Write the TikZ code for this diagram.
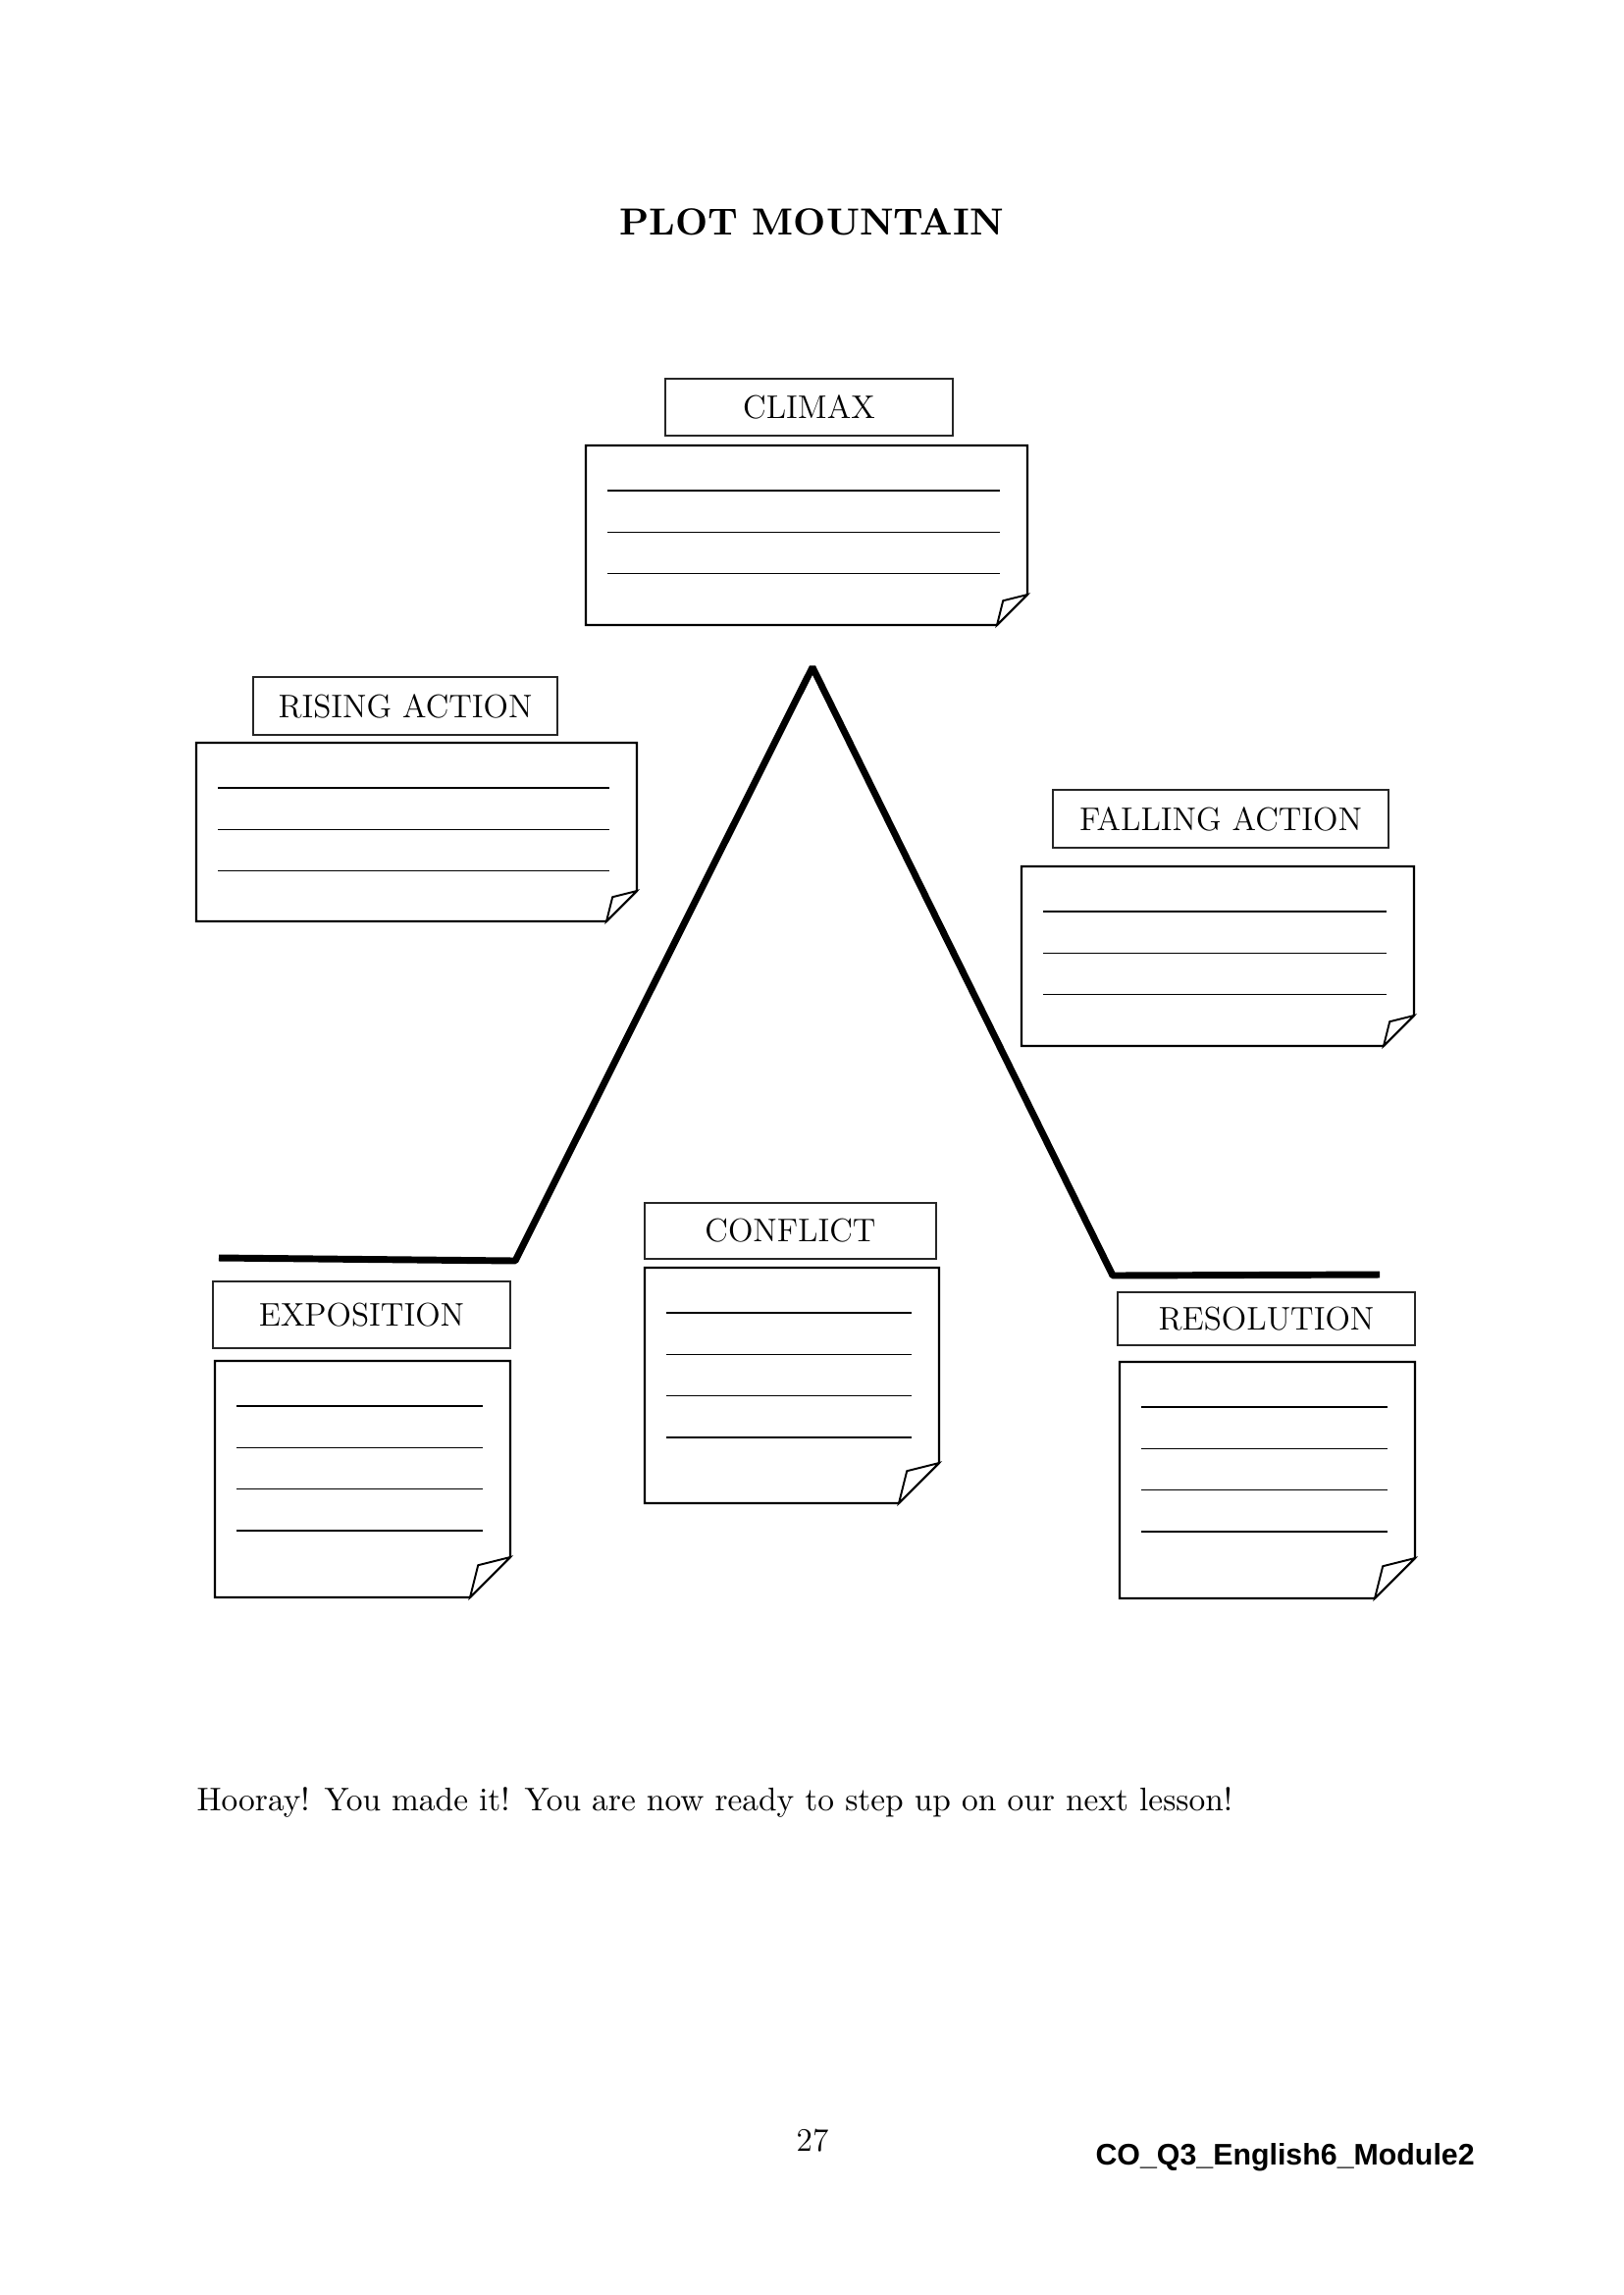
\documentclass[tikz,border=0pt]{standalone}
\usepackage{fontspec}
\newfontfamily\footfont{Liberation Sans}
\usepackage{graphicx}

\tikzset{
  notebox/.style={draw=black, line width=0.8pt, line join=miter, fill=white},
  flap/.style={draw=black, line width=0.7pt, line join=miter, fill=white},
  ruled/.style={draw=black, line width=0.5pt},
  labelbox/.style={draw=black!85, line width=0.45pt, rectangle, inner sep=0pt,
    font=\fontsize{12}{14}\selectfont},
  mountain/.style={line width=2.5pt, line join=bevel, line cap=butt},
}

% sticky note with a curled lower-right corner and ruled lines
% #1 name, #2 x1, #3 y1, #4 x2, #5 y2, #6 corner size, #7 number of lines
\newcommand\stickynote[7]{%
  \coordinate (#1-nw) at (#2,#3);
  \coordinate (#1-ne) at (#4,#3);
  \coordinate (#1-cut) at (#4,#5-#6);
  \coordinate (#1-curl) at (#4-0.8*#6,#5-0.8*#6);
  \coordinate (#1-tip) at (#4-#6,#5);
  \coordinate (#1-sw) at (#2,#5);
  \draw[notebox] (#1-nw) -- (#1-ne) -- (#1-cut) -- (#1-tip) -- (#1-sw) -- cycle;
  \draw[flap] (#1-cut) -- (#1-curl) -- (#1-tip) -- cycle;
  \foreach \k in {1,...,#7}{
    \draw[ruled] (#2+22,{#3+46+(\k-1)*42.3}) -- (#4-28,{#3+46+(\k-1)*42.3});
  }%
}

% heading box: #1 name, #2 x1, #3 y1, #4 x2, #5 y2, #6 text
\newcommand\headingbox[6]{%
  \node[labelbox, minimum width={(#4-#2)*0.36pt}, minimum height={(#5-#3)*0.36pt}]
    (#1) at ({(#2+#4)/2},{(#3+#5)/2+2}) {#6};
}

\begin{document}
\begin{tikzpicture}[x=0.36pt, y=-0.36pt]
  \useasboundingbox[fill=white] (0,0) rectangle (1654,2339);

  % title
  \node[anchor=base, inner sep=0pt] (title) at (827,239)
    {\resizebox{141pt}{!}{\bfseries PLOT MOUNTAIN}};

  % the plot line
  \coordinate (m1) at (223,1282);
  \coordinate (m2) at (525,1285);
  \coordinate (m3) at (828,680);
  \coordinate (m4) at (1134,1300);
  \coordinate (m5) at (1406,1299);
  \draw[mountain] (m1) -- (m2) -- (m3) -- (m4) -- (m5);

  % climax
  \headingbox{climaxlbl}{678}{384}{971}{442}{CLIMAX}
  \stickynote{climax}{597}{454}{1047}{637}{31}{3}

  % rising action
  \headingbox{risinglbl}{258}{688}{568}{747}{RISING ACTION}
  \stickynote{rising}{200}{757}{649}{939}{31}{3}

  % falling action
  \headingbox{fallinglbl}{1073}{803}{1415}{862}{FALLING ACTION}
  \stickynote{falling}{1041}{883}{1441}{1066}{31}{3}

  % conflict
  \headingbox{conflictlbl}{657}{1224}{954}{1281}{CONFLICT}
  \stickynote{conflict}{657}{1292}{957}{1532}{41}{4}

  % exposition
  \headingbox{expositionlbl}{217}{1304}{520}{1372}{EXPOSITION}
  \stickynote{exposition}{219}{1387}{520}{1628}{41}{4}

  % resolution
  \headingbox{resolutionlbl}{1139}{1315}{1442}{1369}{RESOLUTION}
  \stickynote{resolution}{1141}{1388}{1442}{1629}{41}{4}

  % closing line
  \node[anchor=base west, inner sep=0pt] (closing) at (200,1845)
    {\resizebox{380pt}{!}{Hooray! You made it! You are now ready to step up on our next lesson!}};

  % footer
  \node[anchor=base, inner sep=0pt, font=\fontsize{12}{14}\selectfont] (pageno) at (828,2192) {27};
  \node[anchor=base west, inner sep=0pt] (module) at (1116,2206)
    {\resizebox{139pt}{!}{\footfont\bfseries CO\_Q3\_English6\_Module2}};
\end{tikzpicture}
\end{document}
